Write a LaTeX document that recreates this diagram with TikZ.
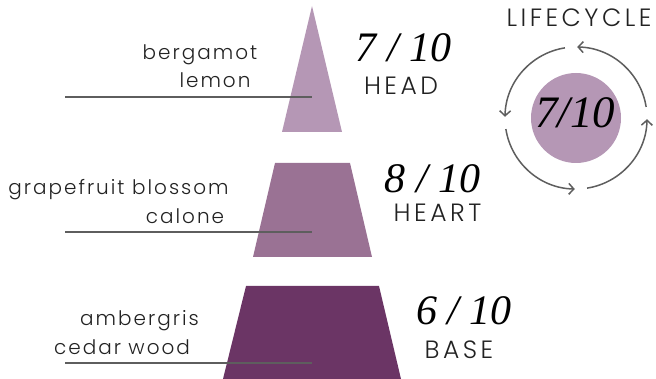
\documentclass[tikz,border=0pt]{standalone}
\usepackage{fontspec}
\setmainfont{Liberation Serif}
\newfontfamily\notefont[LetterSpace=10]{Poppins Light}
\newfontfamily\tierfont[LetterSpace=14]{Poppins Light}
\usepackage{xcolor}
\definecolor{headmauve}{HTML}{B597B5}
\definecolor{heartmauve}{HTML}{9A7294}
\definecolor{baseplum}{HTML}{6B3565}
\definecolor{leadgray}{HTML}{5E5E5E}
\definecolor{inkgray}{HTML}{222222}
\usetikzlibrary{arrows.meta}

\begin{document}
\begin{tikzpicture}[x=1pt,y=-1pt,line cap=butt,
  note/.style={font=\notefont\fontsize{20}{20}\selectfont,text=inkgray,
               anchor=base,inner sep=0pt},
  tier/.style={font=\tierfont\fontsize{25}{25}\selectfont,text=inkgray,
               anchor=base,inner sep=0pt},
  score/.style={font=\itshape\fontsize{42}{42}\selectfont,text=black,
                anchor=base,inner sep=0pt},
  leader/.style={line width=2.4pt,leadgray},
  cycarrow/.style={line width=1.5pt,leadgray,-{Straight Barb[length=5pt,width=11pt]}}]

  \useasboundingbox (0,0) rectangle (656,379);

  % pyramid
  \fill[headmauve]  (312,6) -- (342,132) -- (282,132) -- cycle;
  \fill[heartmauve] (275,163) -- (350,163) -- (372,257) -- (253,257) -- cycle;
  \fill[baseplum]   (246,286) -- (379,286) -- (401,379) -- (223,379) -- cycle;

  % leaders
  \coordinate (headL)  at (65,97);  \coordinate (headR)  at (312,97);
  \coordinate (heartL) at (65,232); \coordinate (heartR) at (312,232);
  \coordinate (baseL)  at (65,363); \coordinate (baseR)  at (312,363);
  \draw[leader] (headL) -- (headR);
  \draw[leader] (heartL) -- (heartR);
  \draw[leader] (baseL) -- (baseR);

  % notes
  \node[note] (bergamot)   at (200,60)   {bergamot};
  \node[note] (lemon)      at (215,88)   {lemon};
  \node[note] (grapefruit) at (118.5,195) {grapefruit blossom};
  \node[note] (calone)     at (185,224)  {calone};
  \node[note] (ambergris)  at (139.5,326) {ambergris};
  \node[note] (cedar)      at (122,354)  {cedar wood};

  % scores
  \node[score] (headscore)  at (403.5,62) {7 / 10};
  \node[tier]  (headtier)   at (401,95)   {HEAD};
  \node[score] (heartscore) at (432.5,193) {8 / 10};
  \node[tier]  (hearttier)  at (437.5,222) {HEART};
  \node[score] (basescore)  at (464,324)  {6 / 10};
  \node[tier]  (basetier)   at (459,359)  {BASE};

  % lifecycle
  \node[tier] (lifecycle) at (579,27) {LIFECYCLE};
  \node[circle,fill=headmauve,minimum size=90pt,inner sep=0pt] (cyc) at (576,118) {};
  \node[score,anchor=base,font=\itshape\fontsize{45}{45}\selectfont] (cycscore)
    at (575,128) {7/10};
  \foreach \a in {0,90,180,270}
    \draw[cycarrow] ([shift={(-\a-9:71)}]cyc.center)
      arc[start angle=-\a-9,end angle=-\a-89,radius=71];
\end{tikzpicture}
\end{document}
